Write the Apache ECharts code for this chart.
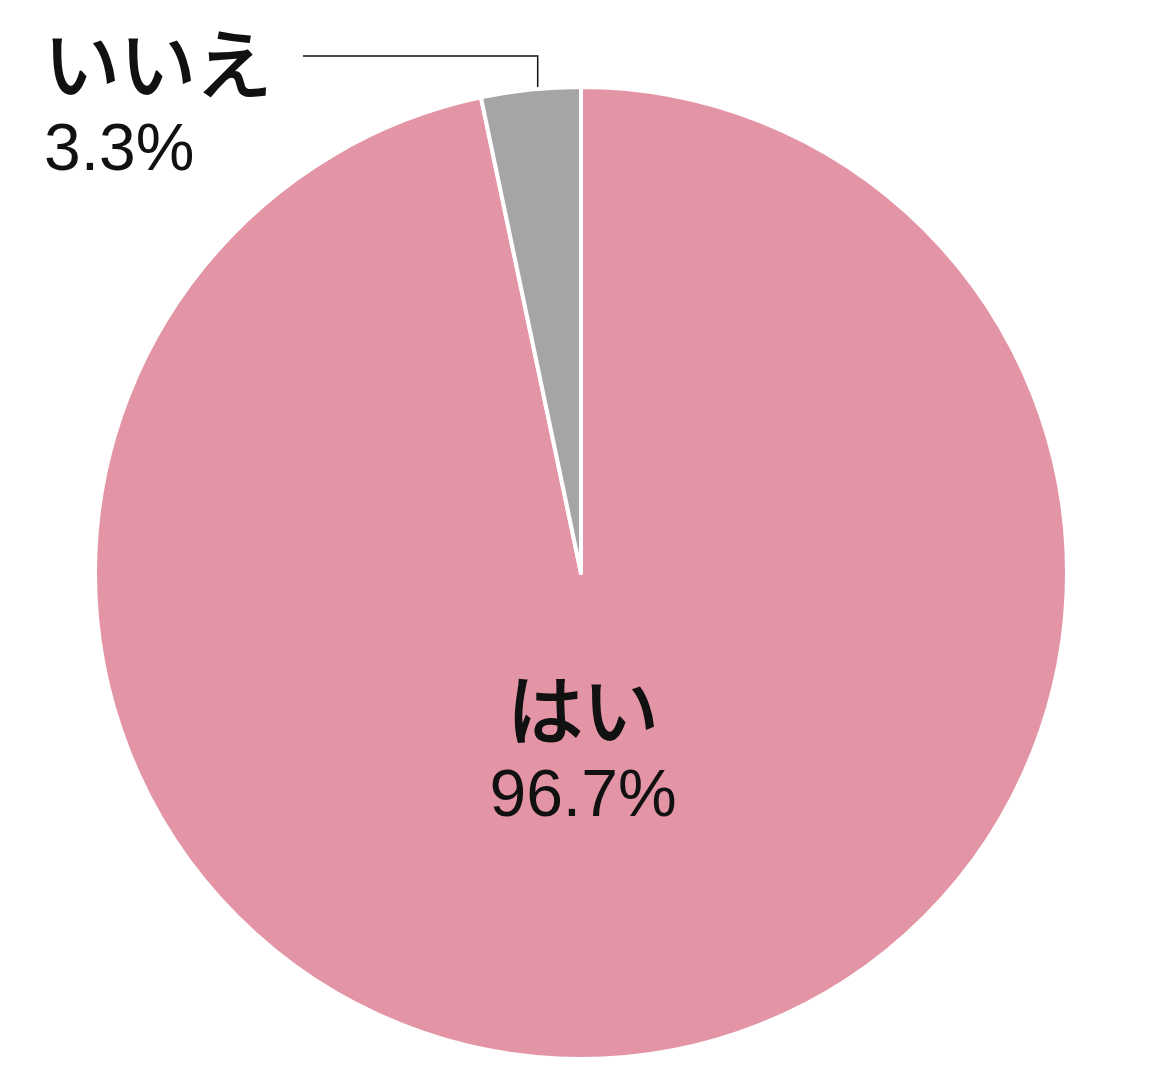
<!DOCTYPE html>
<html><head><meta charset="utf-8">
<script src="https://cdn.jsdelivr.net/npm/echarts@6/dist/echarts.min.js"></script>
<style>html,body{margin:0;padding:0;background:#fff}#c{width:1150px;height:1091px}</style>
</head><body><div id="c"></div>
<script>
const categories = ['はい', 'いいえ'];
const values = [96.7, 3.3];
const colors = ['#E495A5', '#A5A5A5'];

const chart = echarts.init(document.getElementById('c'), null, {renderer: 'canvas'});
const jp = '"Noto Sans CJK JP", sans-serif';
const num = '"Liberation Sans", Arial, sans-serif';
const rich = {
  n: {fontFamily: jp, fontSize: 76, fontWeight: 'normal', color: '#111', lineHeight: 88,
      textBorderColor: '#111', textBorderWidth: 2},
  v: {fontFamily: num, fontSize: 66, color: '#111', lineHeight: 88}
};
chart.setOption({
  animation: false,
  series: [{
    type: 'pie',
    center: [581, 573],
    radius: 486,
    startAngle: 90,
    clockwise: true,
    avoidLabelOverlap: false,
    itemStyle: {borderColor: '#fff', borderWidth: 4},
    label: {
      show: true,
      formatter: p => '{n|' + p.name + '}\n{v|' + p.value.toFixed(1) + '%}',
      rich: rich
    },
    labelLine: {show: true, length: 32, length2: 225, lineStyle: {color: '#111', width: 1.5}},
    labelLayout: function (params) {
      if (params.dataIndex === 0) {
        return {x: 583, y: 666, align: 'center', verticalAlign: 'top'};
      }
      const p0 = params.labelLinePoints ? params.labelLinePoints[0] : [531, 89];
      const a = [p0[0] + 7, p0[1] - 1];
      const p1 = [a[0], 56];
      const p2 = [303, 56];
      return {x: 44, y: 20, align: 'left', verticalAlign: 'top', labelLinePoints: [a, p1, p2]};
    },
    data: categories.map((c, i) => ({
      name: c, value: values[i],
      itemStyle: {color: colors[i]},
      labelLine: {show: i === 1}
    }))
  }]
});
</script></body></html>
